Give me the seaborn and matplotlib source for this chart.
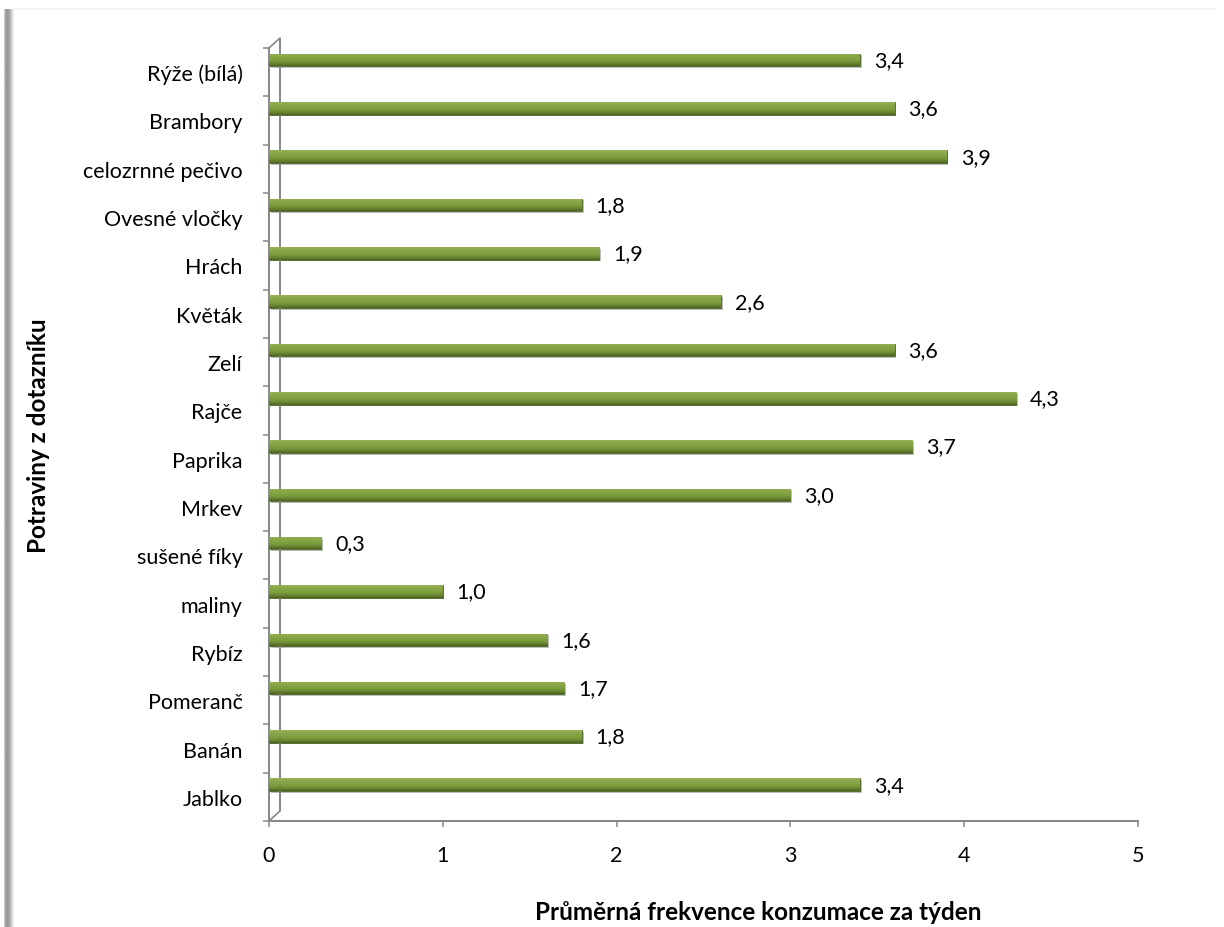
import numpy as np
import matplotlib
matplotlib.use("Agg")
import matplotlib.pyplot as plt
import matplotlib.patheffects as pe
from matplotlib.transforms import ScaledTranslation
from matplotlib.colors import LinearSegmentedColormap
import seaborn as sns

# Foods from the questionnaire (top to bottom) and mean weekly frequency
foods = ["Rýže (bílá)", "Brambory", "celozrnné pečivo", "Ovesné vločky", "Hrách",
         "Květák", "Zelí", "Rajče", "Paprika", "Mrkev", "sušené fíky", "maliny",
         "Rybíz", "Pomeranč", "Banán", "Jablko"]
freq = [3.4, 3.6, 3.9, 1.8, 1.9, 2.6, 3.6, 4.3, 3.7, 3.0, 0.3, 1.0, 1.6, 1.7, 1.8, 3.4]
x_ticks = [0, 1, 2, 3, 4, 5]

x_title = "Průměrná frekvence konzumace za týden"
y_title = "Potraviny z dotazníku"

sns.set_theme(style="white")
plt.rcParams["font.family"] = ["Lato", "DejaVu Sans"]

W, H, DPI = 1224, 928, 100
fig = plt.figure(figsize=(W / DPI, H / DPI), dpi=DPI, facecolor="white")
ax = fig.add_axes([269 / W, 1 - 822 / H, 869 / W, 773 / H])

axis_grey = "#868686"
bar_green = "#7e9e3e"
label_size = 15.5
title_size = 17.5

sns.barplot(x=freq, y=foods, orient="h", color=bar_green, width=0.26,
            saturation=1, ax=ax, edgecolor="#4d6624", linewidth=0.6)

# cylinder-like shading on every bar
shade = LinearSegmentedColormap.from_list(
    "cyl", ["#98b25c", "#8aa84a", "#84a343", "#7c9b3c", "#6a8630", "#4a6322"])
grad = np.linspace(0, 1, 64).reshape(-1, 1)
for patch in ax.patches:
    x0, y0 = patch.get_x(), patch.get_y()
    w, h = patch.get_width(), patch.get_height()
    im = ax.imshow(grad, cmap=shade, aspect="auto", origin="upper",
                   extent=(x0, x0 + w, y0 + h, y0), zorder=3,
                   interpolation="bilinear")
    im.set_clip_path(patch)
    patch.set_path_effects([pe.SimplePatchShadow(offset=(1.2, -1.2),
                                                 shadow_rgbFace="#7a7a7a", alpha=0.5),
                            pe.Normal()])

ax.bar_label(ax.containers[0], labels=[f"{v:.1f}".replace(".", ",") for v in freq],
             padding=10, fontsize=label_size, color="black")

n = len(foods)
ax.set_xlim(x_ticks[0], x_ticks[-1])
ax.set_ylim(n - 0.25, -0.25)

# category labels sit in the middle of each band; tick marks on band edges
ax.set_yticks(np.arange(n) + 0.25, labels=foods)
ax.set_yticks(np.arange(n + 1) - 0.25, minor=True)
ax.tick_params(axis="y", which="major", length=0, pad=19, labelsize=label_size,
               labelcolor="black")
ax.tick_params(axis="y", which="minor", left=True, length=4.5, width=1.1, color=axis_grey)
ax.set_xticks(x_ticks, labels=[str(t) for t in x_ticks])
ax.tick_params(axis="x", which="major", bottom=True, length=4.5, width=1.1,
               color=axis_grey, pad=13, labelsize=label_size, labelcolor="black")

for side in ["top", "right"]:
    ax.spines[side].set_visible(False)
for side in ["left", "bottom"]:
    ax.spines[side].set_color(axis_grey)
    ax.spines[side].set_linewidth(1.4)
ax.grid(False)

# back wall of the 3-D plot frame
depth = ScaledTranslation(11 / DPI, 10 / DPI, fig.dpi_scale_trans)
ax.plot([0, 0], [0, 1], transform=ax.transAxes + depth, color=axis_grey,
        lw=1.4, clip_on=False, solid_capstyle="butt")
for yy in (0, 1):
    ax.plot([0, 11 / 869], [yy, yy + 10 / 773], transform=ax.transAxes,
            color=axis_grey, lw=1.2, clip_on=False)

ax.set_xlabel(x_title, fontsize=title_size, fontweight="bold", color="black")
ax.set_ylabel(y_title, fontsize=title_size, fontweight="bold", color="black")
ax.xaxis.set_label_coords((758 - 269) / 869, -(913 - 822) / 773)
ax.xaxis.label.set_va("center")
ax.yaxis.set_label_coords(-(269 - 38) / 869, 0.5)
ax.yaxis.label.set_va("center")

# soft shadow along the left edge of the chart frame
edge = fig.add_axes([0, 0, 16 / W, 1 - 10 / H], zorder=-1)
prof = np.array([1.0, 1.0, 1.0, 1.0, 0.80, 0.66, 0.60, 0.60, 0.62, 0.66,
                 0.72, 0.80, 0.88, 0.94, 0.98, 1.0])
edge.imshow(np.tile(prof, (4, 1)), cmap="gray", vmin=0, vmax=1, aspect="auto",
            interpolation="bilinear")
edge.axis("off")
fig.add_artist(plt.Line2D([14 / W, 1 - 10 / W], [1 - 10 / H, 1 - 10 / H],
                          color="#f2f2f2", lw=1.5))

fig.savefig("out.png", dpi=DPI, facecolor="white")
